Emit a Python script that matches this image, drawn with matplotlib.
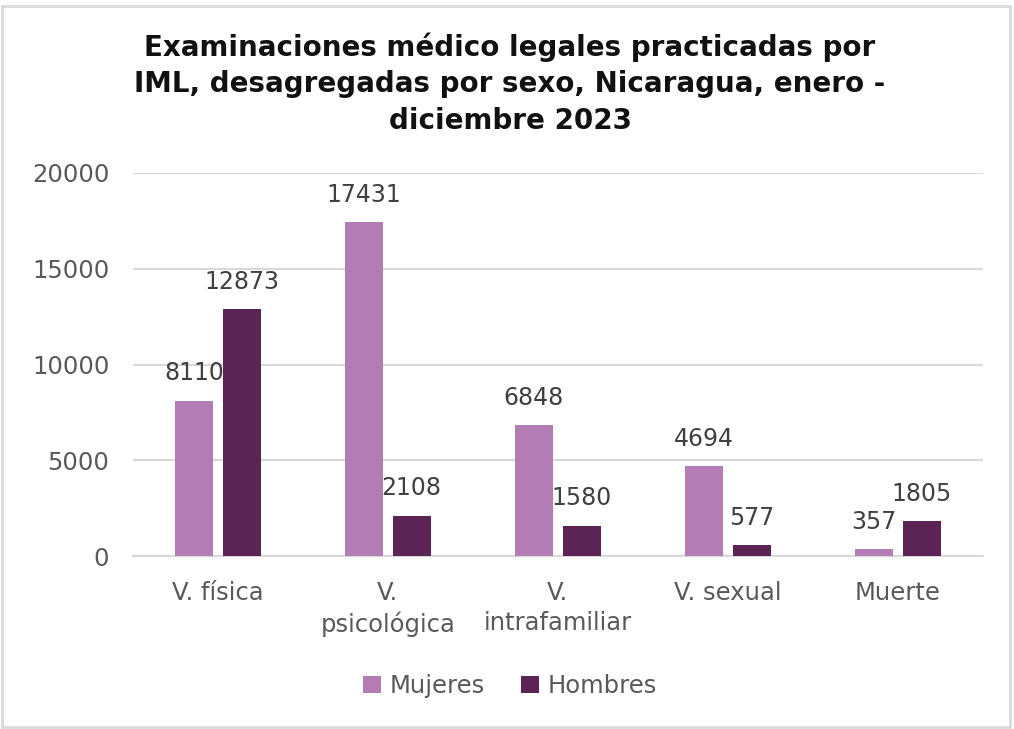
import matplotlib
matplotlib.use("Agg")
import matplotlib.pyplot as plt
from matplotlib.patches import Rectangle
import numpy as np

categories = ["V. física", "V.\npsicológica", "V.\nintrafamiliar", "V. sexual", "Muerte"]
mujeres = [8110, 17431, 6848, 4694, 357]
hombres = [12873, 2108, 1580, 577, 1805]
yticks = [0, 5000, 10000, 15000, 20000]
title = "Examinaciones médico legales practicadas por\nIML, desagregadas por sexo, Nicaragua, enero -\ndiciembre 2023"

c_muj = "#B47CB4"
c_hom = "#5B2454"
grid_c = "#D9D9D9"
tick_c = "#595959"
lab_c = "#404040"

plt.rcParams['font.family'] = ['DejaVu Sans']

fig = plt.figure(figsize=(10.14, 7.29), dpi=100)
ax = fig.add_axes([0.131, 0.2373, 0.838, 0.5254])

x = np.arange(len(categories))
w = 0.2235
off = 0.141
b1 = ax.bar(x - off, mujeres, w, color=c_muj, label="Mujeres", zorder=3)
b2 = ax.bar(x + off, hombres, w, color=c_hom, label="Hombres", zorder=3)

for bars, vals in ((b1, mujeres), (b2, hombres)):
    for rect, v in zip(bars, vals):
        ax.annotate(str(v), (rect.get_x() + rect.get_width() / 2, v),
                    xytext=(0, 11), textcoords="offset points",
                    ha="center", va="bottom", fontsize=17, color=lab_c)

ax.set_xlim(-0.5, len(categories) - 0.5)
ax.set_ylim(0, 20000)
ax.set_yticks(yticks)
ax.set_yticklabels([str(t) for t in yticks], fontsize=17.5, color=tick_c)
ax.set_xticks(x)
ax.set_xticklabels(categories, fontsize=17.5, color=tick_c, linespacing=1.3, va="top")
ax.tick_params(axis="both", length=0)
ax.tick_params(axis="y", pad=17)
ax.tick_params(axis="x", pad=18)
ax.grid(axis="y", color=grid_c, linewidth=1.6, zorder=0)
for s in ["top", "right", "left"]:
    ax.spines[s].set_visible(False)
ax.spines["bottom"].set_color(grid_c)
ax.spines["bottom"].set_linewidth(1.6)

fig.text(0.503, 0.955, title, ha="center", va="top", fontsize=20,
         fontweight="bold", color="#111111", linespacing=1.37)

leg = fig.legend(handles=[b1, b2], labels=["Mujeres", "Hombres"], loc="center",
                 bbox_to_anchor=(0.503, 0.059), ncol=2, frameon=False,
                 fontsize=17.5, handlelength=0.75, handleheight=0.75,
                 handletextpad=0.35, columnspacing=1.5)
for t in leg.get_texts():
    t.set_color(tick_c)

fig.patches.append(Rectangle((0.002, 0.003), 0.994, 0.989, transform=fig.transFigure,
                             fill=False, edgecolor="#D9D9D9", linewidth=2))

fig.savefig("out.png", dpi=100, facecolor="white")
